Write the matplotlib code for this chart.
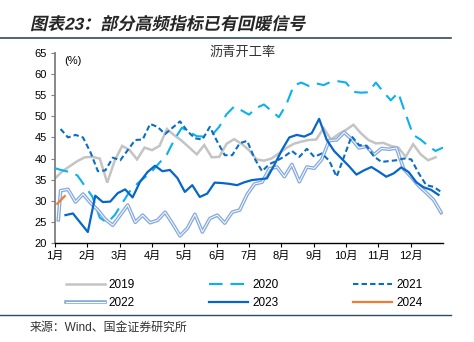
import numpy as np
import matplotlib
matplotlib.use("Agg")
import matplotlib.pyplot as plt
import matplotlib.patheffects as pe
from matplotlib.patheffects import AbstractPathEffect
from matplotlib.transforms import Affine2D
from matplotlib.lines import Line2D

plt.rcParams["font.family"] = ["Liberation Sans", "Noto Sans CJK SC"]

# ---------------------------------------------------------------------------
# Data: weekly asphalt operating rate (%), first week number of each series
# ---------------------------------------------------------------------------
MONTHS = ["1月", "2月", "3月", "4月", "5月", "6月",
          "7月", "8月", "9月", "10月", "11月", "12月"]
Y_TICKS = [20, 25, 30, 35, 40, 45, 50, 55, 60, 65]

start_2019 = 0.0
y2019 = [35.3, 37.0, 38.2, 39.4, 40.3, 40.4, 40.0, 34.3, 39.5, 43.0,
         42.0, 39.8, 42.6, 42.0, 43.0, 47.0, 45.5, 44.2, 42.6, 41.0,
         43.2, 40.3, 40.4, 43.5, 44.6, 43.5, 42.0, 39.8, 39.5, 40.0,
         41.2, 42.5, 43.5, 44.0, 44.4, 44.5, 47.2, 44.5, 45.8, 46.8,
         48.0, 46.0, 44.4, 43.6, 43.7, 43.0, 42.6, 40.4, 43.4, 41.0,
         39.6, 40.3]

start_2020 = 0.0
y2020 = [37.7, 37.2, 36.8, 36.0, 33.5, 31.0, 26.0, 24.8, 26.6, 29.4,
         32.2, 34.0, 35.5, 37.0, 39.0, 41.0, 44.5, 47.3, 46.3, 45.3,
         45.2, 45.5, 47.5, 50.5, 52.3, 51.4, 50.4, 52.0, 52.8, 51.3,
         49.8, 52.8, 57.3, 58.0, 57.2, 57.8, 57.4, 58.2, 58.3, 58.0,
         55.8, 55.6, 55.7, 58.0, 55.8, 53.8, 55.6, 50.5, 45.6, 44.5,
         43.0, 41.8, 42.6]

start_2021 = 0.75
y2021 = [47.0, 45.0, 45.6, 45.0, 41.5, 37.0, 37.2, 40.2, 39.6, 42.0,
         44.4, 44.5, 48.2, 47.5, 45.8, 47.3, 48.8, 46.5, 44.8, 44.5,
         47.5, 44.0, 40.8, 40.8, 43.6, 44.2, 40.0, 37.0, 38.7, 39.5,
         40.5, 41.8, 40.4, 42.3, 40.4, 41.2, 39.5, 35.7, 40.5, 45.3,
         43.2, 43.0, 40.5, 39.2, 39.4, 39.6, 40.0, 39.8, 36.5, 33.7,
         33.3, 32.1]

# 2022 has an extra first reading a few days before the weekly series
first_week_2022 = 0.45
first_val_2022 = 25.5
start_2022 = 0.75
y2022 = [32.4, 32.7, 29.7, 31.6, 29.5, 27.8, 25.6, 24.2, 26.6, 29.0,
         24.9, 26.6, 24.8, 25.4, 27.3, 24.6, 21.7, 23.5, 26.8, 22.6,
         25.8, 26.6, 24.7, 27.3, 27.8, 31.5, 34.0, 34.4, 37.6, 38.0,
         35.7, 38.6, 34.5, 38.0, 37.7, 39.8, 44.3, 44.4, 46.2, 44.6,
         42.5, 42.9, 40.9, 42.4, 42.2, 42.5, 37.5, 35.6, 33.5, 31.9,
         30.2, 27.2]

start_2023 = 1.4
y2023 = [26.6, 27.0, 24.8, 22.6, 31.2, 29.7, 29.8, 31.8, 32.7, 30.8,
         34.5, 36.8, 38.3, 37.0, 37.3, 35.4, 32.1, 33.7, 30.9, 31.7,
         34.3, 34.2, 34.0, 33.7, 34.4, 34.9, 35.1, 35.3, 38.5, 42.0,
         45.0, 45.6, 45.2, 46.0, 49.4, 44.5, 41.8, 40.0, 38.2, 36.2,
         37.2, 38.0, 36.9, 35.7, 36.5, 37.9, 36.8, 34.4, 33.2, 32.6,
         31.4]

start_2024 = 0.3
y2024 = [29.3, 31.1]

# ---------------------------------------------------------------------------
# Style
# ---------------------------------------------------------------------------
C2019 = "#C4C4C4"
C2020 = "#0BB0EE"
C2021 = "#0A6DC2"
C2022_EDGE = "#86AADF"
C2023 = "#0766C8"
C2024 = "#F07B35"
RULE = "#2E4A64"


class Slant(AbstractPathEffect):
    """Shear text glyphs to fake an italic face (CJK fonts have none)."""

    def __init__(self, deg=12):
        super().__init__()
        self.deg = deg

    def draw_path(self, renderer, gc, tpath, affine, rgbFace=None):
        m = affine.get_matrix()
        x0, y0 = m[0, 2], m[1, 2]
        shear = Affine2D().translate(-x0, -y0).skew_deg(self.deg, 0).translate(x0, y0)
        renderer.draw_path(gc, tpath, affine + shear, rgbFace)


def weeks_to_month(weeks):
    return np.asarray(weeks, dtype=float) * 12 / 52


def series_x(start, values):
    return weeks_to_month(start + np.arange(len(values)))


fig = plt.figure(figsize=(4.74, 3.42), dpi=100)
ax = fig.add_axes([55 / 474, 1 - 243 / 342, 388 / 474, 190 / 342])

l19, = ax.plot(series_x(start_2019, y2019), y2019, color=C2019, lw=1.8,
               solid_joinstyle="miter", label="2019", zorder=2)
l20, = ax.plot(series_x(start_2020, y2020), y2020, color=C2020, lw=1.5,
               dashes=(6.5, 3.8), label="2020", zorder=3)
l21, = ax.plot(series_x(start_2021, y2021), y2021, color=C2021, lw=1.5,
               dashes=(2.6, 1.5), label="2021", zorder=4)
x22 = np.concatenate([weeks_to_month([first_week_2022]), series_x(start_2022, y2022)])
v22 = [first_val_2022] + y2022
l22, = ax.plot(x22, v22, color="white", lw=0.7, label="2022", zorder=3,
               path_effects=[pe.Stroke(linewidth=2.6, foreground=C2022_EDGE), pe.Normal()])
l23, = ax.plot(series_x(start_2023, y2023), y2023, color=C2023, lw=1.6,
               label="2023", zorder=5)
l24, = ax.plot(series_x(start_2024, y2024), y2024, color=C2024, lw=1.6,
               label="2024", zorder=6)

ax.set_xlim(0, 12)
ax.set_ylim(20, 65)
ax.set_xticks(np.arange(len(MONTHS)))
ax.set_xticklabels(MONTHS)
ax.set_yticks(Y_TICKS)
ax.tick_params(axis="both", labelsize=8, direction="out", length=3, width=0.8, pad=3)
ax.tick_params(axis="y", colors="#7F7F7F", labelcolor="black")
for side in ("top", "right"):
    ax.spines[side].set_visible(False)
ax.spines["left"].set_color("#7F7F7F")
ax.spines["left"].set_linewidth(1.3)
ax.spines["bottom"].set_color("black")
ax.spines["bottom"].set_linewidth(1.0)

ax.text(0.025, 0.985, "(%)", transform=ax.transAxes, fontsize=8, va="top", ha="left")
fig.text(243 / 474, 1 - 52 / 342, "沥青开工率", fontsize=9.5, ha="center",
         va="center", color="#333333")

# legend, row-major order in 3 columns
handles = [l19, l22, l20, l23, l21, l24]
fig.legend(handles=handles, labels=[h.get_label() for h in handles], ncol=3,
           loc="center", bbox_to_anchor=(244 / 474, 1 - 294 / 342),
           frameon=False, fontsize=8.5, handlelength=3.3, handletextpad=0.35,
           columnspacing=6.3, labelspacing=0.45)

# header / footer
fig.text(30 / 474, 1 - 24 / 342, "图表23：部分高频指标已有回暖信号", fontsize=12.3,
         fontweight="bold", va="center", ha="left", color="#262626",
         path_effects=[Slant(12)])
fig.add_artist(Line2D([0, 451 / 474], [1 - 37.5 / 342] * 2, color=RULE, lw=1.2))
fig.add_artist(Line2D([0, 451 / 474], [1 - 314.5 / 342] * 2, color=RULE, lw=1.0))
fig.text(30 / 474, 1 - 328 / 342, "来源：Wind、国金证券研究所", fontsize=8.6,
         va="center", ha="left", color="#333333")

fig.savefig("out.png", dpi=100)
